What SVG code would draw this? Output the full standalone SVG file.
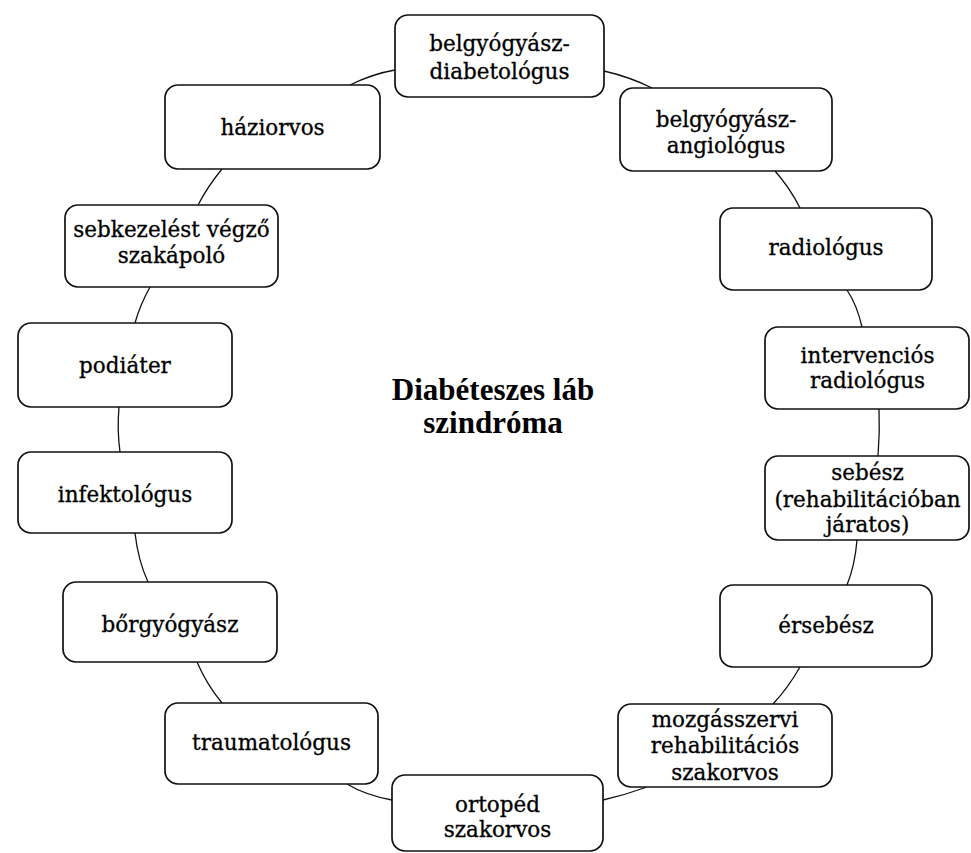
<svg xmlns="http://www.w3.org/2000/svg" width="971" height="853" viewBox="0 0 971 853">
<style>
.box{fill:#fff;stroke:#111;stroke-width:1.7}
.l{font-family:'DejaVu Serif',serif;font-size:21.5px;fill:#000;stroke:#000;stroke-width:0.3;text-anchor:middle}
.c path{fill:none;stroke:#111;stroke-width:1.3}
.t{font-family:'Liberation Serif','Times New Roman',serif;font-size:31px;font-weight:bold;fill:#000;text-anchor:middle}
</style>
<rect width="971" height="853" fill="#fff"/>
<g id="connectors" class="c">
<path d="M395,70 Q372,74 350,85"/>
<path d="M222,169 Q208,186 198,205"/>
<path d="M150,287 Q140,305 135,323"/>
<path d="M119,407 Q117,430 120,452"/>
<path d="M135,533 Q138,560 148,582"/>
<path d="M197,662 Q207,685 222,703"/>
<path d="M347,784 Q365,795 392,800"/>
<path d="M603,800 Q625,795 647,787"/>
<path d="M773,704 Q788,688 800,667"/>
<path d="M847,585 Q855,565 857,540"/>
<path d="M878,456 Q880,432 879,409"/>
<path d="M862,327 Q857,305 847,290"/>
<path d="M800,208 Q790,188 775,171"/>
<path d="M652,88 Q630,77 604,71"/>
</g>
<g id="n-diabetologus"><rect class="box" x="395" y="15" width="209" height="82" rx="13"/><text class="l" x="499.5" y="51">belgyógyász-</text><text class="l" x="499.5" y="79">diabetológus</text></g>
<g id="n-angiologus"><rect class="box" x="620" y="88" width="212" height="83" rx="13"/><text class="l" x="726" y="127">belgyógyász-</text><text class="l" x="726" y="153">angiológus</text></g>
<g id="n-haziorvos"><rect class="box" x="165" y="85" width="215" height="84" rx="13"/><text class="l" x="272.5" y="135">háziorvos</text></g>
<g id="n-sebkezeles"><rect class="box" x="65" y="205" width="213" height="82" rx="13"/><text class="l" x="171.5" y="237">sebkezelést végző</text><text class="l" x="171.5" y="263">szakápoló</text></g>
<g id="n-podiater"><rect class="box" x="18" y="323" width="214" height="84" rx="13"/><text class="l" x="125" y="373">podiáter</text></g>
<g id="n-infektologus"><rect class="box" x="18" y="452" width="214" height="81" rx="13"/><text class="l" x="125" y="502">infektológus</text></g>
<g id="n-borgyogyasz"><rect class="box" x="63" y="582" width="214" height="80" rx="13"/><text class="l" x="170" y="632">bőrgyógyász</text></g>
<g id="n-traumatologus"><rect class="box" x="165" y="703" width="213" height="81" rx="13"/><text class="l" x="271.5" y="750">traumatológus</text></g>
<g id="n-ortoped"><rect class="box" x="392" y="775" width="211" height="76" rx="13"/><text class="l" x="497.5" y="812">ortopéd</text><text class="l" x="497.5" y="837">szakorvos</text></g>
<g id="n-mozgasszervi"><rect class="box" x="618" y="704" width="214" height="83" rx="13"/><text class="l" x="725" y="727">mozgásszervi</text><text class="l" x="725" y="753">rehabilitációs</text><text class="l" x="725" y="780">szakorvos</text></g>
<g id="n-ersebesz"><rect class="box" x="720" y="585" width="212" height="82" rx="13"/><text class="l" x="826" y="633">érsebész</text></g>
<g id="n-sebesz"><rect class="box" x="765" y="456" width="204" height="84" rx="13"/><text class="l" x="867.5" y="480">sebész</text><text class="l" x="867.5" y="507">(rehabilitációban</text><text class="l" x="867.5" y="532">járatos)</text></g>
<g id="n-intervencios"><rect class="box" x="765" y="327" width="204" height="82" rx="13"/><text class="l" x="867.5" y="363">intervenciós</text><text class="l" x="867.5" y="388">radiológus</text></g>
<g id="n-radiologus"><rect class="box" x="720" y="208" width="212" height="82" rx="13"/><text class="l" x="826" y="255">radiológus</text></g>
<g id="center"><text class="t" x="493" y="400">Diabéteszes láb</text><text class="t" x="493" y="433">szindróma</text></g>
</svg>
